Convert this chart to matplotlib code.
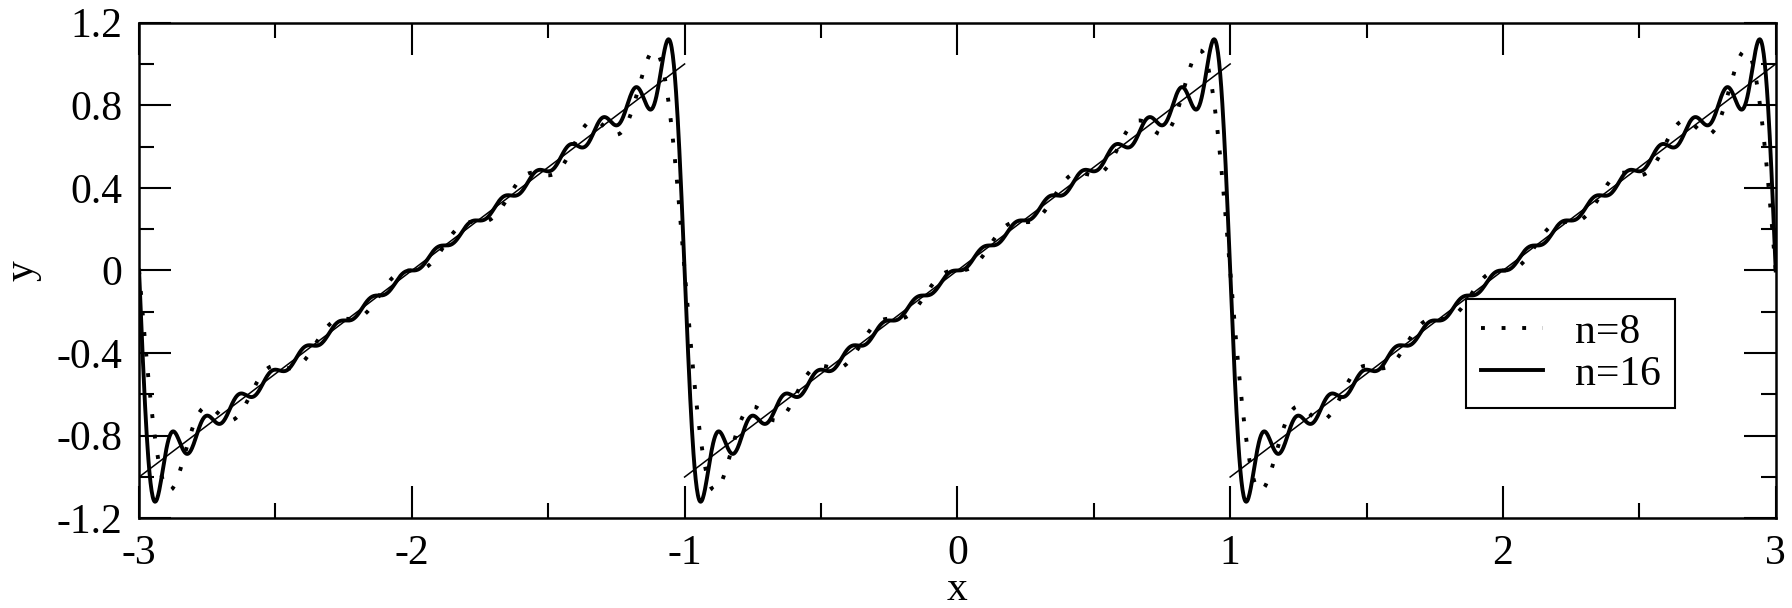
import numpy as np
import matplotlib
matplotlib.use("Agg")
import matplotlib.pyplot as plt
from matplotlib.ticker import MultipleLocator

# Fourier sine coefficients of the sawtooth (period 2), k = 1..16
coef = [0.6366, -0.3183, 0.2122, -0.1592, 0.1273, -0.1061, 0.0909, -0.0796,
        0.0707, -0.0637, 0.0579, -0.0531, 0.0490, -0.0455, 0.0424, -0.0398]
n_terms = [8, 16]
labels = ["n=8", "n=16"]

# exact sawtooth segments
saw_x = [-3, -1, np.nan, -1, 1, np.nan, 1, 3]
saw_y = [-1, 1, np.nan, -1, 1, np.nan, -1, 1]

x = np.linspace(-3, 3, 3000)


def partial_sum(n):
    y = np.zeros_like(x)
    for k in range(1, n + 1):
        y += coef[k - 1] * np.sin(k * np.pi * x)
    return y


plt.rcParams['font.family'] = ['Liberation Serif', 'DejaVu Serif']
fig = plt.figure(figsize=(17.92, 6.08), dpi=100)
ax = fig.add_axes([0.0776, 0.1475, 0.9133, 0.8152])

ax.plot(saw_x, saw_y, color='black', lw=1.1)
ax.plot(x, partial_sum(n_terms[0]), color='black', lw=2.8,
        dashes=(1, 4.3), dash_capstyle='butt', label=labels[0])
ax.plot(x, partial_sum(n_terms[1]), color='black', lw=2.8, label=labels[1])

ax.set_xlim(-3, 3)
ax.set_ylim(-1.2, 1.2)
ax.xaxis.set_major_locator(MultipleLocator(1))
ax.xaxis.set_minor_locator(MultipleLocator(0.5))
ax.yaxis.set_major_locator(MultipleLocator(0.4))
ax.yaxis.set_minor_locator(MultipleLocator(0.2))
ax.set_yticks([-1.2, -0.8, -0.4, 0, 0.4, 0.8, 1.2])
ax.set_yticklabels(["-1.2", "-0.8", "-0.4", "0", "0.4", "0.8", "1.2"])
ax.set_xticklabels([f"{int(v)}" for v in ax.get_xticks()])

ax.tick_params(which='both', direction='in', top=True, right=True,
               labelsize=30, width=1.5)
ax.tick_params(which='major', length=23, pad=12)
ax.tick_params(which='minor', length=11)
for s in ax.spines.values():
    s.set_linewidth(1.8)

ax.set_xlabel("x", fontsize=30, labelpad=-2)
ax.set_ylabel("y", fontsize=30, labelpad=11)

leg = ax.legend(loc='upper left', bbox_to_anchor=(0.811, 0.443),
                fontsize=30, frameon=True, fancybox=False, framealpha=1,
                edgecolor='black', handlelength=1.5, handletextpad=0.75,
                labelspacing=0.08, borderpad=0.35, borderaxespad=0)
leg.get_frame().set_linewidth(1.5)

fig.savefig("out.png", dpi=100)
